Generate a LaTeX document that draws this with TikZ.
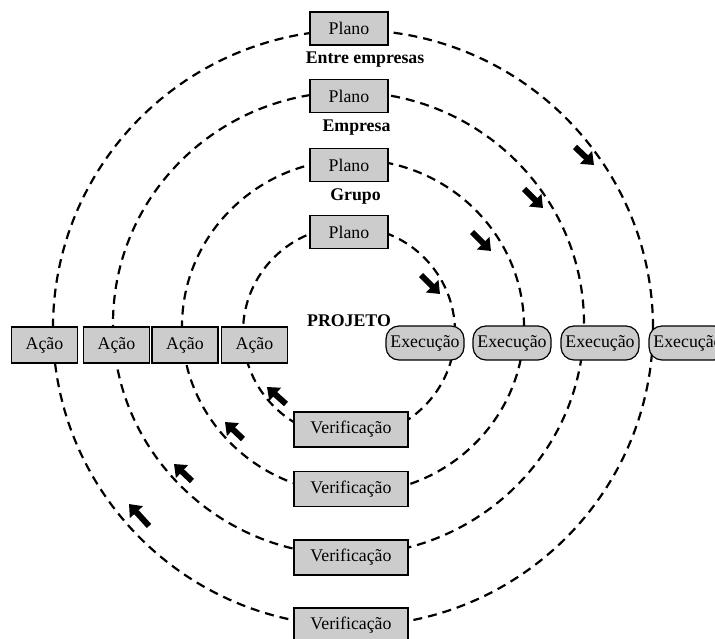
\documentclass[tikz,border=0pt]{standalone}
\usepackage{fontspec}
\setmainfont{Liberation Serif}
\usetikzlibrary{arrows.meta}
\definecolor{boxgray}{RGB}{204,204,204}
\begin{document}
\begin{tikzpicture}[x=1bp,y=-1bp,
  ring/.style={dash pattern=on 9bp off 6bp, line width=2.2bp},
  box/.style={draw, fill=boxgray, line width=1.2bp, inner sep=0pt,
    font=\fontsize{17.8bp}{20bp}\selectfont},
  planobox/.style={box, minimum width=78bp, minimum height=33bp},
  acaobox/.style={box, minimum width=66bp, minimum height=36bp},
  execbox/.style={box, rounded corners=13bp, minimum width=78bp, minimum height=34bp},
  verifbox/.style={box, minimum width=114bp, minimum height=35bp},
  level/.style={font=\bfseries\fontsize{17.8bp}{20bp}\selectfont},
  flow/.style={line width=6bp, -{Triangle[length=11bp,width=17bp]}}
]
\useasboundingbox (0,0) rectangle (715,639);
\clip (0,0) rectangle (715,639);

% the four dashed cycles, innermost first
\draw[ring] (349,332)   ellipse [x radius=106bp,   y radius=105.5bp];
\draw[ring] (353,326.5) ellipse [x radius=171bp,   y radius=167bp];
\draw[ring] (348.5,323.5) ellipse [x radius=235.5bp, y radius=231.5bp];
\draw[ring] (353,328)   ellipse [x radius=300bp,   y radius=298bp];

% direction of travel: clockwise
\coordinate (r1s) at (575,147); \coordinate (r1e) at (594,165);
\coordinate (r2s) at (524,189); \coordinate (r2e) at (543,208);
\coordinate (r3s) at (472,232); \coordinate (r3e) at (491,251);
\coordinate (r4s) at (421,275); \coordinate (r4e) at (440,294);
\coordinate (l1s) at (149,526); \coordinate (l1e) at (129,504);
\coordinate (l2s) at (192,481); \coordinate (l2e) at (174,464);
\coordinate (l3s) at (243,439); \coordinate (l3e) at (225,422);
\coordinate (l4s) at (286,404); \coordinate (l4e) at (267,387);
\foreach \a in {r1,r2,r3,r4,l1,l2,l3,l4}
  \draw[flow] (\a s) -- (\a e);

% Plano
\node[planobox] (plano4) at (349,28.5) {Plano};
\node[planobox] (plano3) at (349,96)   {Plano};
\node[planobox] (plano2) at (349,165)  {Plano};
\node[planobox] (plano1) at (349,232)  {Plano};

% level labels
\node[level] (lvl4) at (365,60)    {Entre empresas};
\node[level] (lvl3) at (356.5,128) {Empresa};
\node[level] (lvl2) at (355.5,197) {Grupo};
\node[level] (lvl1) at (349,321)   {PROJETO};

% Ação
\node[acaobox] (acao4) at (44.5,345)  {Ação};
\node[acaobox] (acao3) at (116.5,345) {Ação};
\node[acaobox] (acao2) at (185,345)   {Ação};
\node[acaobox] (acao1) at (254.5,345) {Ação};

% Execução
\node[execbox] (exec1) at (425,343) {Execução};
\node[execbox] (exec2) at (512,343) {Execução};
\node[execbox] (exec3) at (600,343) {Execução};
\node[execbox] (exec4) at (688,343) {Execução};

% Verificação
\node[verifbox] (verif1) at (351,429.5) {Verificação};
\node[verifbox] (verif2) at (351,489)   {Verificação};
\node[verifbox] (verif3) at (351,557.5) {Verificação};
\node[verifbox] (verif4) at (351,625.5) {Verificação};
\end{tikzpicture}
\end{document}
